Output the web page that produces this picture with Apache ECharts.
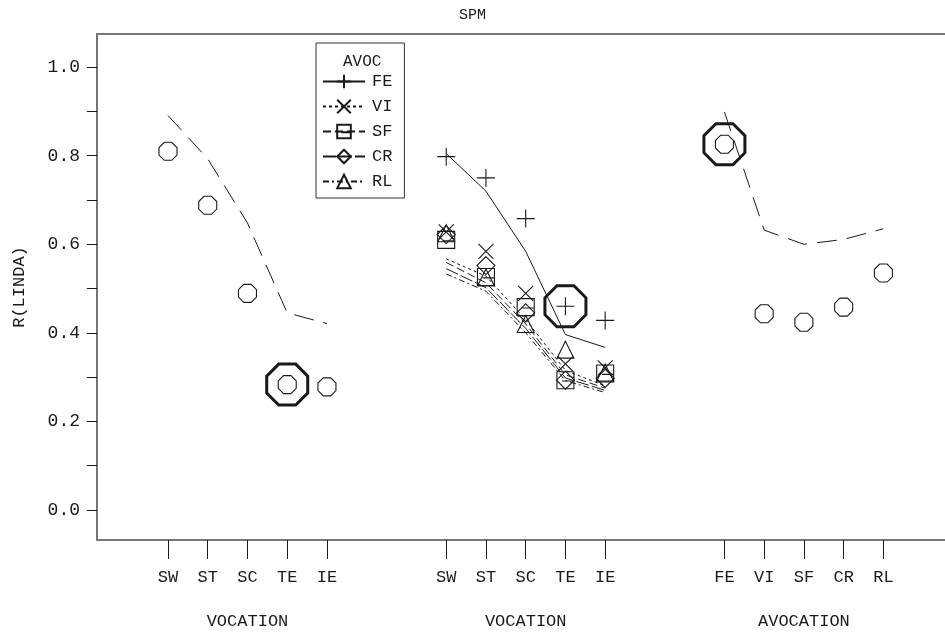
<!DOCTYPE html>
<html>
<head>
<meta charset="utf-8">
<script src="https://cdn.jsdelivr.net/npm/echarts@6/dist/echarts.min.js"></script>
<style>html,body{margin:0;padding:0;background:#fff}#c{width:945px;height:636px}</style>
</head>
<body>
<div id="c"></div>
<script>
// ---- data ----
var titleText = 'SPM';
var yAxisName = 'R(LINDA)';
var vocCats = ['SW', 'ST', 'SC', 'TE', 'IE'];
var avocCats = ['FE', 'VI', 'SF', 'CR', 'RL'];
var groupNames = ['VOCATION', 'VOCATION', 'AVOCATION'];
var yTickValues = [0.0, 0.1, 0.2, 0.3, 0.4, 0.5, 0.6, 0.7, 0.8, 0.9, 1.0];
var yLabelValues = [0.0, 0.2, 0.4, 0.6, 0.8, 1.0];

// group 1 (vocation, overall)
var g1Obs = [0.810, 0.688, 0.489, 0.283, 0.278];
var g1Fit = [0.891, 0.793, 0.648, 0.445, 0.421];
var g1Highlight = [3];

// group 2 (vocation by AVOC)
var feObs = [0.798, 0.750, 0.658, 0.460, 0.428];
var feFit = [0.805, 0.720, 0.584, 0.396, 0.367];
var viObs = [0.628, 0.584, 0.489, 0.330, 0.321];
var viFit = [0.567, 0.528, 0.430, 0.315, 0.280];
var sfObs = [0.610, 0.526, 0.458, 0.293, 0.308];
var sfFit = [0.559, 0.513, 0.420, 0.305, 0.275];
var crObs = [0.622, 0.552, 0.445, 0.293, 0.297];
var crFit = [0.545, 0.502, 0.410, 0.298, 0.270];
var rlObs = [0.625, 0.525, 0.420, 0.362, 0.310];
var rlFit = [0.533, 0.494, 0.400, 0.292, 0.265];
var g2Highlight = [3]; // on FE

// group 3 (avocation)
var g3Obs = [0.826, 0.443, 0.424, 0.458, 0.535];
var g3Fit = [0.899, 0.632, 0.600, 0.611, 0.635];
var g3Highlight = [0];

var legendTitle = 'AVOC';

// ---- layout helpers ----
var groupStart = [1, 8, 15];
function pts(g, arr) { return arr.map(function (v, i) { return [groupStart[g] + i, v]; }); }
function hl(g, arr, idx) { return idx.map(function (i) { return [groupStart[g] + i, arr[i]]; }); }
var xTickVals = [], xLabelMap = {};
[vocCats, vocCats, avocCats].forEach(function (cats, g) {
  cats.forEach(function (c, i) { var v = groupStart[g] + i; xTickVals.push(v); xLabelMap[v] = c; });
});
var groupCenters = [groupStart[0] + 2, groupStart[1] + 2, groupStart[2] + 2];
var groupMap = {}; groupCenters.forEach(function (v, i) { groupMap[v] = groupNames[i]; });

var FONT = 'Liberation Mono';
var INK = '#1a1a1a';
var OCT = 'path://M29.3 0 L70.7 0 L100 29.3 L100 70.7 L70.7 100 L29.3 100 L0 70.7 L0 29.3 Z';
var PLUS = 'path://M50 0 L50 100 M0 50 L100 50';
var CROSS = 'path://M0 0 L100 100 M100 0 L0 100';
var SQR = 'path://M0 0 L100 0 L100 100 L0 100 Z M30 55 L100 55';
var DIAM = 'path://M50 0 L100 50 L50 100 L0 50 Z';
var TRI = 'path://M50 0 L100 88 L0 88 Z';
var hollow = { color: 'rgba(0,0,0,0)', borderColor: INK, borderWidth: 1.1, opacity: 1 };

function fitLine(name, data, sym, dash, w) {
  return { name: name, type: 'line', data: data, symbol: sym, showSymbol: false, symbolSize: 14,
    itemStyle: { color: 'rgba(0,0,0,0)', borderColor: INK, borderWidth: 1, opacity: 1 },
    lineStyle: { color: INK, width: w || 1, type: dash }, z: 3, silent: true, animation: false };
}
function obs(name, data, sym, size) {
  return { name: name, type: 'scatter', data: data, symbol: sym, symbolSize: size,
    itemStyle: hollow, z: 4, silent: true, animation: false };
}

var option = {
  backgroundColor: '#fff',
  animation: false,
  title: [
    { text: titleText, left: 'center', top: 3, textStyle: { fontFamily: FONT, fontSize: 15, fontWeight: 'normal', color: INK } },
    { text: legendTitle, left: 338, top: 49, textStyle: { fontFamily: FONT, fontSize: 16, fontWeight: 'normal', color: INK } }
  ],
  legend: {
    data: ['FE', 'VI', 'SF', 'CR', 'RL'],
    orient: 'vertical', left: 316, top: 43,
    padding: [30, 12, 8, 6],
    itemWidth: 42, itemHeight: 17, itemGap: 8,
    borderColor: '#333', borderWidth: 1, borderRadius: 0,
    textStyle: { fontFamily: FONT, fontSize: 17, color: INK, padding: [0, 0, 0, 2] },
    selectedMode: false
  },
  grid: { left: 97, right: 0, top: 34, bottom: 96 },
  xAxis: [
    { type: 'value', position: 'bottom', min: -0.786, max: 20.55,
      axisLine: { show: true, onZero: false, lineStyle: { color: '#777', width: 2 } },
      axisTick: { show: true, length: 19, customValues: xTickVals, lineStyle: { color: INK, width: 1 } },
      axisLabel: { show: true, customValues: xTickVals, margin: 29, fontFamily: FONT, fontSize: 17, color: INK,
        formatter: function (v) { return xLabelMap[Math.round(v)] || ''; } },
      splitLine: { show: false } },
    { type: 'value', position: 'bottom', min: -0.786, max: 20.55,
      axisLine: { show: false, onZero: false }, axisTick: { show: false },
      axisLabel: { show: true, customValues: groupCenters, margin: 73, fontFamily: FONT, fontSize: 17, color: INK,
        formatter: function (v) { return groupMap[Math.round(v)] || ''; } },
      splitLine: { show: false } },
    { type: 'value', position: 'top', min: -0.786, max: 20.55,
      axisLine: { show: true, onZero: false, lineStyle: { color: '#777', width: 2 } },
      axisTick: { show: false }, axisLabel: { show: false }, splitLine: { show: false } }
  ],
  yAxis: {
    type: 'value', min: -0.068, max: 1.075, position: 'left',
    name: yAxisName, nameLocation: 'middle', nameRotate: 90, nameGap: 69,
    nameTextStyle: { fontFamily: FONT, fontSize: 17, color: INK },
    axisLine: { show: true, onZero: false, lineStyle: { color: '#444', width: 1.5 } },
    axisTick: { show: true, length: 10, customValues: yTickValues, lineStyle: { color: INK, width: 1 } },
    axisLabel: { show: true, customValues: yLabelValues, margin: 17, fontFamily: FONT, fontSize: 18, color: INK,
      formatter: function (v) { return v.toFixed(1); } },
    splitLine: { show: false }
  },
  series: [
    // group 1
    fitLine('g1fit', pts(0, g1Fit), 'none', [20, 10], 1),
    obs('g1obs', pts(0, g1Obs), OCT, 18),
    obs('g1hl', hl(0, g1Obs, g1Highlight), OCT, 41),
    // group 2 fitted lines (legend entries)
    fitLine('FE', pts(1, feFit), PLUS, 'solid', 1),
    fitLine('VI', pts(1, viFit), CROSS, [3, 3], 1),
    fitLine('SF', pts(1, sfFit), SQR, [8, 4], 1),
    fitLine('CR', pts(1, crFit), DIAM, [13, 3], 1),
    fitLine('RL', pts(1, rlFit), TRI, [6, 3, 2, 3], 1),
    // group 2 observed
    obs('feObs', pts(1, feObs), PLUS, 18),
    obs('viObs', pts(1, viObs), CROSS, 15),
    obs('sfObs', pts(1, sfObs), SQR, 17),
    obs('crObs', pts(1, crObs), DIAM, 18),
    obs('rlObs', pts(1, rlObs), TRI, 17),
    obs('g2hl', hl(1, feObs, g2Highlight), OCT, 41),
    // group 3
    fitLine('g3fit', pts(2, g3Fit), 'none', [20, 10], 1),
    obs('g3obs', pts(2, g3Obs), OCT, 18),
    obs('g3hl', hl(2, g3Obs, g3Highlight), OCT, 41)
  ]
};
// thicker border for highlight octagons
option.series.forEach(function (s) {
  if (/hl$/.test(s.name)) s.itemStyle = { color: 'rgba(0,0,0,0)', borderColor: INK, borderWidth: 3, opacity: 1 };
});
var chart = echarts.init(document.getElementById('c'), null, { renderer: 'canvas' });
chart.setOption(option);
</script>
</body>
</html>
